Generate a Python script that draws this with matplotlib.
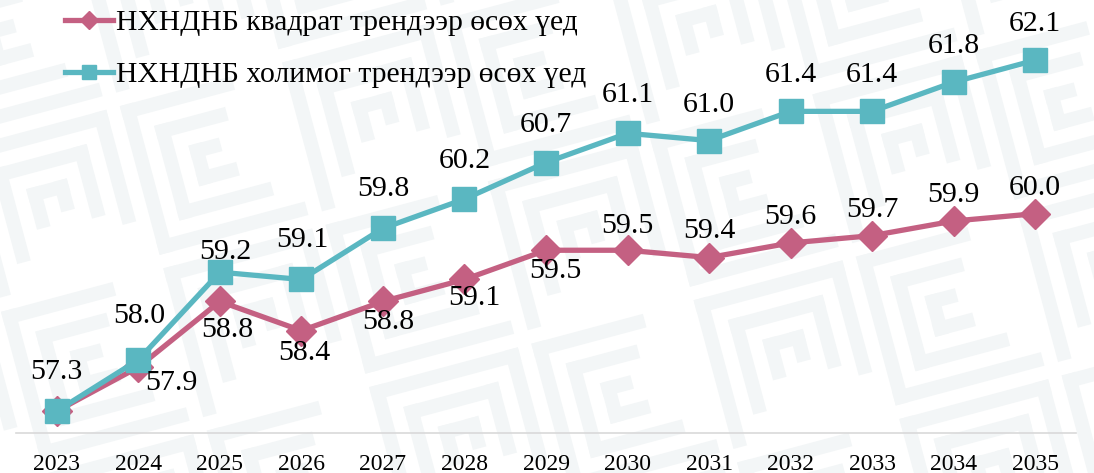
import matplotlib
matplotlib.use("Agg")
import matplotlib.pyplot as plt
from matplotlib.patches import Rectangle
from matplotlib.transforms import Affine2D

years = ["2023", "2024", "2025", "2026", "2027", "2028", "2029",
         "2030", "2031", "2032", "2033", "2034", "2035"]
quad_trend = [57.3, 57.9, 58.8, 58.4, 58.8, 59.1, 59.5, 59.5, 59.4, 59.6, 59.7, 59.9, 60.0]
mixed_trend = [57.3, 58.0, 59.2, 59.1, 59.8, 60.2, 60.7, 61.1, 61.0, 61.4, 61.4, 61.8, 62.1]
label_quad = "НХНДНБ квадрат трендээр өсөх үед"
label_mixed = "НХНДНБ холимог трендээр өсөх үед"

PINK = "#C46082"
TEAL = "#5AB7C1"
FONT = "Liberation Serif"

fig = plt.figure(figsize=(10.94, 4.73), dpi=100)
fig.patch.set_facecolor("white")

# decorative faint background pattern (rotated meander)
bg = fig.add_axes([0, 0, 1, 1], zorder=0)
bg.set_xlim(0, 1094)
bg.set_ylim(473, 0)
bg.axis("off")
pc = "#F3F6F7"
rot = Affine2D().rotate_deg_around(547, 236, -15) + bg.transData
tile = 168
w = 14
for ty in range(-3, 6):
    for tx in range(-2, 9):
        ox = tx * tile
        oy = ty * tile
        kind = (tx + ty) % 2
        for k in range(3):
            off = k * 2 * w
            s = tile - 2 * off - w
            if s <= w:
                continue
            x0, y0 = ox + off, oy + off
            if kind == 0:
                rects = [(x0, y0, w, s), (x0, y0, s, w), (x0 + s - w, y0, w, s * 0.75)]
            else:
                rects = [(x0, y0, w, s), (x0, y0 + s - w, s, w), (x0, y0, s * 0.75, w)]
            for (rx, ry, rw, rh) in rects:
                bg.add_patch(Rectangle((rx, ry), rw, rh, color=pc, lw=0, transform=rot))

ax = fig.add_axes([16 / 1094, 40 / 473, 1060 / 1094, 433 / 473], zorder=1)
ax.patch.set_alpha(0)
x = list(range(len(years)))

ax.plot(x, mixed_trend, color=TEAL, lw=3.8, marker="s", markersize=17,
        label=label_mixed, zorder=3)
ax.plot(x, quad_trend, color=PINK, lw=3.8, marker="D", markersize=15.5,
        label=label_quad, zorder=2)

ax.set_xlim(-0.5, len(years) - 0.5)
ax.set_ylim(57.0, 57.0 + 433 / 73.1)
ax.set_xticks(x)
ax.set_xticklabels(years, fontfamily=FONT, fontsize=17)
ax.tick_params(axis="x", length=0, pad=15)
ax.set_yticks([])
for s in ["top", "right", "left"]:
    ax.spines[s].set_visible(False)
ax.spines["bottom"].set_color("#D9D9D9")
ax.spines["bottom"].set_linewidth(1.2)

# data labels
mixed_off = [(0, 39), (1, 44), (5, 20), (1, 39), (0, 39), (0, 38), (0, 38),
             (0, 38), (0, 36), (0, 36), (0, 36), (0, 36), (0, 36)]
quad_off = [(0, 0), (33, -16), (7, -29), (3, -22), (5, -21), (10, -19), (9, -21),
            (0, 24), (0, 27), (0, 26), (0, 26), (0, 26), (0, 26)]
for i, v in enumerate(mixed_trend):
    dx, dy = mixed_off[i]
    ax.annotate(f"{v:.1f}", (x[i], v), xytext=(dx, dy), textcoords="offset pixels",
                ha="center", va="center", fontfamily=FONT, fontsize=21.5, zorder=5)
for i, v in enumerate(quad_trend):
    if i == 0:
        continue
    dx, dy = quad_off[i]
    ax.annotate(f"{v:.1f}", (x[i], v), xytext=(dx, dy), textcoords="offset pixels",
                ha="center", va="center", fontfamily=FONT, fontsize=21.5, zorder=5)

handles, labels = ax.get_legend_handles_labels()
leg = ax.legend(handles[::-1], labels[::-1], loc="upper left",
                bbox_to_anchor=(22 / 1060, 1.04), frameon=False,
                prop={"family": FONT, "size": 21.3}, handlelength=1.65,
                handletextpad=0.1, labelspacing=0.85, markerscale=0.6)

fig.savefig("out.png", dpi=100)
